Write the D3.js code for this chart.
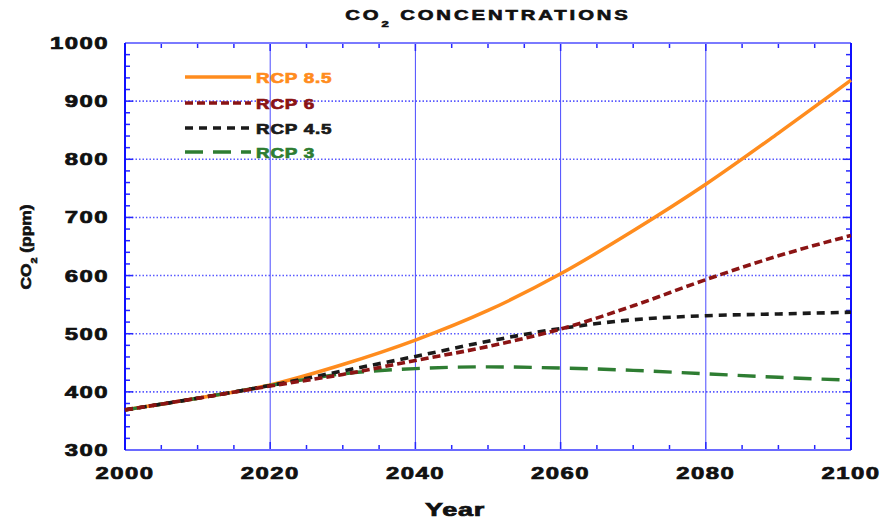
<!DOCTYPE html>
<html>
<head>
<meta charset="utf-8">
<script src="https://cdn.jsdelivr.net/npm/d3@7"></script>
<style>
  html, body { margin: 0; padding: 0; background: #fff; }
  svg { display: block; }
  text { font-family: "Liberation Sans", Arial, sans-serif; font-weight: bold; }
</style>
</head>
<body>
<svg id="chart" width="885" height="520"></svg>
<script>
// CO2 concentration pathways, ppm by decade
const years = [2000, 2010, 2020, 2030, 2040, 2050, 2060, 2070, 2080, 2090, 2100];
const rcp85 = [369, 389, 412, 447, 489, 540, 603, 677, 757, 845, 936];
const rcp6  = [369, 389, 410, 430, 454, 478, 508, 548, 593, 634, 669];
const rcp45 = [369, 389, 411, 436, 461, 487, 509, 524, 531, 534, 537];
const rcp3  = [369, 389, 411, 431, 440, 443, 441, 437, 431, 425, 420];

const seriesNames = ["RCP 8.5", "RCP 6", "RCP 4.5", "RCP 3"];
const xTicks = [2000, 2020, 2040, 2060, 2080, 2100];
const yTicks = [300, 400, 500, 600, 700, 800, 900, 1000];

const svg = d3.select("#chart");
const L = 125, R = 851, T = 43, B = 450;
const x = d3.scaleLinear().domain([2000, 2100]).range([L, R]);
const y = d3.scaleLinear().domain([300, 1000]).range([B, T]);

const blue = "#2626ff";
const gridBlue = "#5a5aff";

// horizontal dotted grid
svg.append("g").selectAll("line")
  .data(yTicks.filter(v => v > 300 && v < 1000))
  .join("line")
  .attr("x1", L).attr("x2", R)
  .attr("y1", d => y(d)).attr("y2", d => y(d))
  .attr("stroke", gridBlue).attr("stroke-width", 1.6)
  .attr("stroke-dasharray", "1.5,2");

// vertical solid grid
svg.append("g").selectAll("line")
  .data(xTicks.filter(v => v > 2000 && v < 2100))
  .join("line")
  .attr("x1", d => x(d)).attr("x2", d => x(d))
  .attr("y1", T).attr("y2", B)
  .attr("stroke", "#4a4aff").attr("stroke-width", 1);

// minor ticks: every 5 years and every 20 ppm, pointing inward on all sides
const xMinor = d3.range(2005, 2100, 5);
const yMinor = d3.range(320, 1000, 20);
const tk = svg.append("g").attr("stroke", blue).attr("stroke-width", 1.5);
tk.selectAll(".xb").data(xMinor).join("line")
  .attr("x1", d => x(d)).attr("x2", d => x(d))
  .attr("y1", B).attr("y2", d => B - (d % 20 === 0 ? 8 : 5));
tk.selectAll(".xt").data(xMinor).join("line")
  .attr("x1", d => x(d)).attr("x2", d => x(d))
  .attr("y1", T).attr("y2", d => T + (d % 20 === 0 ? 8 : 5));
tk.selectAll(".yl").data(yMinor).join("line")
  .attr("x1", L).attr("x2", d => L + (d % 100 === 0 ? 8 : 5))
  .attr("y1", d => y(d)).attr("y2", d => y(d));
tk.selectAll(".yr").data(yMinor).join("line")
  .attr("x1", R).attr("x2", d => R - (d % 100 === 0 ? 8 : 5))
  .attr("y1", d => y(d)).attr("y2", d => y(d));

// frame
svg.append("line").attr("x1", L).attr("x2", R).attr("y1", T).attr("y2", T)
  .attr("stroke", "#7a7aff").attr("stroke-width", 2);
svg.append("line").attr("x1", L).attr("x2", R).attr("y1", B).attr("y2", B)
  .attr("stroke", "#6a6aff").attr("stroke-width", 2);
svg.append("line").attr("x1", L).attr("x2", L).attr("y1", T).attr("y2", B)
  .attr("stroke", "#1010ff").attr("stroke-width", 2);
svg.append("line").attr("x1", R).attr("x2", R).attr("y1", T).attr("y2", B)
  .attr("stroke", "#1010ff").attr("stroke-width", 2);

// heavy, wide bold lettering: text drawn at origin, stretched horizontally
function wideText(g, str, tx, ty, size, sx, spacing, anchor, fill) {
  const c = fill || "#111";
  return g.append("text")
    .attr("transform", `translate(${tx},${ty}) scale(${sx},1)`)
    .attr("font-size", size)
    .attr("letter-spacing", spacing)
    .attr("text-anchor", anchor)
    .attr("fill", c)
    .attr("stroke", c).attr("stroke-width", 0.7)
    .text(str);
}

// tick labels
const lab = svg.append("g");
yTicks.forEach(v => {
  wideText(lab, String(v), 109, y(v) + 6, 16.5, 1.45, 1, "end");
});
xTicks.forEach(v => {
  wideText(lab, String(v), x(v), 479, 16.5, 1.45, 1, "middle");
});

// title with subscript
const title = svg.append("text")
  .attr("transform", `translate(${(L + R) / 2},20) scale(1.45,1)`)
  .attr("text-anchor", "middle").attr("font-size", 14)
  .attr("letter-spacing", 2).attr("fill", "#111")
  .attr("stroke", "#111").attr("stroke-width", 0.6);
title.append("tspan").text("CO");
title.append("tspan").attr("font-size", 9).attr("dy", 7).text("2");
title.append("tspan").attr("dy", -7).text(" CONCENTRATIONS");

// axis titles
wideText(svg, "Year", 455, 516, 18, 1.5, 0.5, "middle");
const yt = svg.append("text")
  .attr("transform", "translate(31,247) rotate(-90) scale(1.2,1)")
  .attr("text-anchor", "middle").attr("font-size", 14.5).attr("fill", "#111")
  .attr("stroke", "#111").attr("stroke-width", 0.6);
yt.append("tspan").text("CO");
yt.append("tspan").attr("font-size", 9).attr("dy", 6).text("2");
yt.append("tspan").attr("dy", -6).text(" (ppm)");

// series
const series = [
  { name: seriesNames[0], values: rcp85, color: "#ff8c1e", dash: null, width: 3.5 },
  { name: seriesNames[1], values: rcp6,  color: "#8b1414", dash: "8,4", width: 3.6 },
  { name: seriesNames[2], values: rcp45, color: "#1a1a1a", dash: "8,6", width: 3.6 },
  { name: seriesNames[3], values: rcp3,  color: "#2e7d32", dash: "18,10", width: 3.4 }
];

const line = d3.line()
  .x((d, i) => x(years[i]))
  .y(d => y(d))
  .curve(d3.curveMonotoneX);

const drawOrder = [0, 3, 2, 1];
drawOrder.forEach(k => {
  const s = series[k];
  svg.append("path")
    .datum(s.values)
    .attr("d", line)
    .attr("fill", "none")
    .attr("stroke", s.color)
    .attr("stroke-width", s.width)
    .attr("stroke-dasharray", s.dash);
});

// legend
const legendY = [77, 103, 128, 152];
const lg = svg.append("g");
series.forEach((s, i) => {
  lg.append("line")
    .attr("x1", 185).attr("x2", 251)
    .attr("y1", legendY[i]).attr("y2", legendY[i])
    .attr("stroke", s.color).attr("stroke-width", s.width)
    .attr("stroke-dasharray", s.dash);
  wideText(lg, s.name, 256, legendY[i] + 5.5, 14.5, 1.3, 0.6, "start", s.color);
});
</script>
</body>
</html>
